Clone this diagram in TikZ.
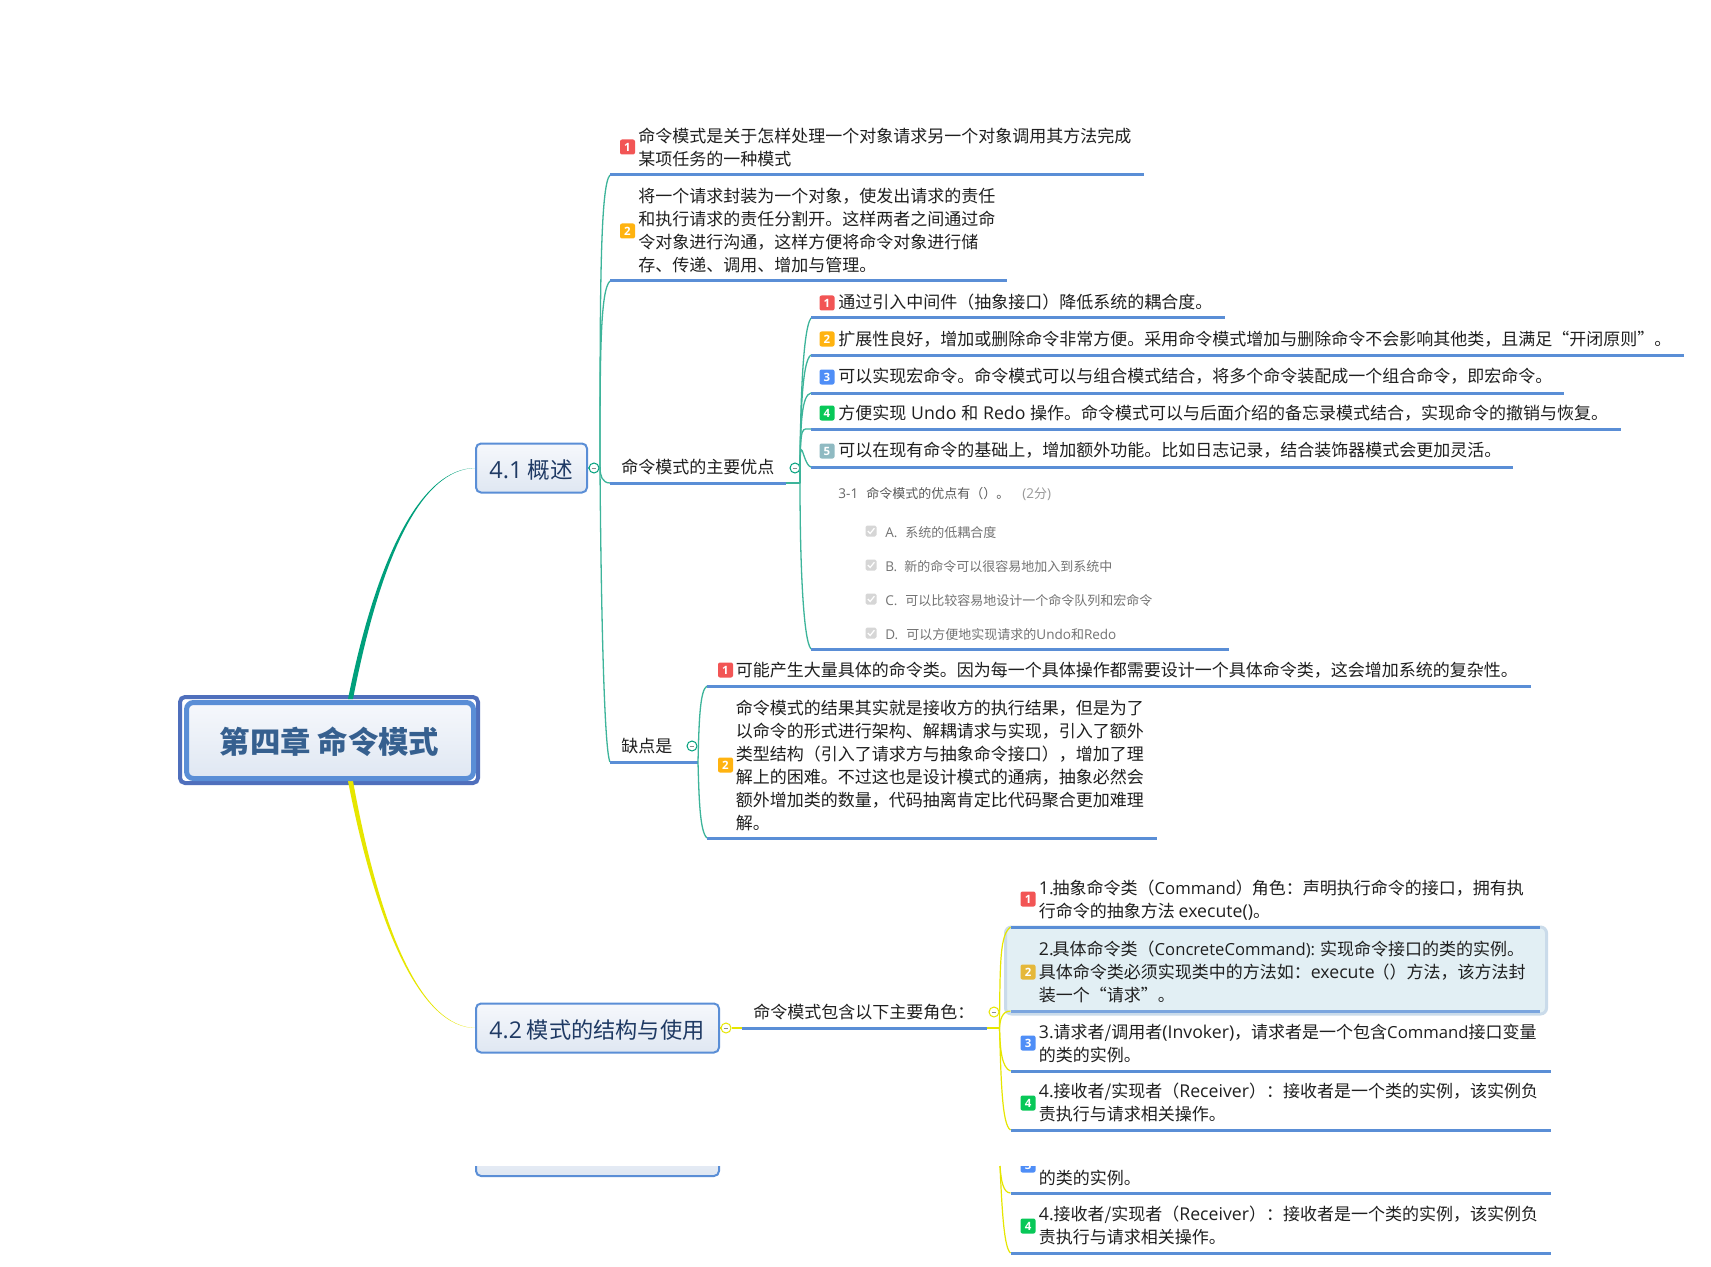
\documentclass[tikz,border=0pt]{standalone}
\usepackage{fontspec}
\setmainfont{Noto Sans CJK SC}
\newfontfamily\lat[Scale=1.04]{Open Sans}
\newfontfamily\latn[Scale=0.98]{Open Sans}
\definecolor{ulc}{HTML}{5A8ED6}
\definecolor{frame}{HTML}{4F6FBC}
\definecolor{titlec}{HTML}{36608F}
\definecolor{topicc}{HTML}{1F3A64}
\definecolor{hlfill}{HTML}{E2EFF4}
\definecolor{hldraw}{HTML}{CADBEA}
\definecolor{grn}{HTML}{00A07C}
\definecolor{grnl}{HTML}{3DB49A}
\definecolor{yel}{HTML}{E6E600}
\definecolor{mred}{HTML}{F25555}
\definecolor{mora}{HTML}{FFB310}
\definecolor{mblu}{HTML}{4F8EF7}
\definecolor{mgre}{HTML}{08C858}
\definecolor{mgry}{HTML}{8FBAC2}
\definecolor{mdim}{HTML}{E5B83A}
\definecolor{ctop}{HTML}{F6F8FC}
\definecolor{cbot}{HTML}{DFE7F2}
\tikzset{
  x=0.5pt,y=-0.5pt,
  txt/.style={anchor=west,inner sep=0pt,align=left,text=black!88,font=\fontsize{8.5}{11.5}\selectfont},
  qz/.style={anchor=west,inner sep=0pt,font=\fontsize{6.5}{8}\selectfont},
  ul/.style={draw=ulc,line width=1.5pt},
  bg/.style={line width=0.65pt,draw=grnl},
  by/.style={line width=0.6pt,draw=yel},
  mk/.style={fill=#1,rounded corners=1pt,minimum size=7.5pt,inner sep=0pt,text=white,font=\fontsize{5.5}{6}\lat\bfseries\selectfont},
  topic/.style={draw=ulc,line width=1pt,rounded corners=2.5pt,top color=ctop,bottom color=cbot,inner sep=0pt},
  topiclab/.style={inner sep=0pt,text=topicc,font=\fontsize{11.3}{14}\selectfont},
  fold/.style={circle,draw=#1,fill=white,line width=0.5pt,minimum size=5pt,inner sep=0pt,
    path picture={\draw[line width=0.3pt,draw=black!45] ([xshift=-1.2pt]path picture bounding box.center)--([xshift=1.2pt]path picture bounding box.center);}},
  cb/.style={fill=black!16,rounded corners=0.8pt,minimum size=5.5pt,inner sep=0pt},
}
\begin{document}
\begin{tikzpicture}
\useasboundingbox (0,0) rectangle (1711,1267);
\fill[white] (0,0) rectangle (1711,1267);

% root outer frame
\node[draw=frame,line width=2pt,rounded corners=2.5pt,fill=white,minimum width=149pt,minimum height=43pt,inner sep=0pt] (rootout) at (329,740) {};
% named ends
\coordinate (ra) at (348,699); \coordinate (rb) at (353,699);
\coordinate (rc) at (348,781); \coordinate (rd) at (353,781);
\coordinate (g) at (476,468); \coordinate (y) at (476,1028);
\fill[grn] (ra) .. controls (376,560) and (420,467.5) .. (g) .. controls (420,468.5) and (380,560) .. (rb) -- cycle;
\fill[yel] (rc) .. controls (376,925) and (420,1028.5) .. (y) .. controls (420,1027.5) and (379,925) .. (rd) -- cycle;

\node[draw=ulc,line width=2.5pt,rounded corners=3.5pt,top color=ctop,bottom color=cbot,minimum width=143.5pt,minimum height=38pt,inner sep=0pt] (root) at (330,740.5) {};
\node[inner sep=0pt,text=titlec,font=\fontsize{15.2}{18}\bfseries\selectfont] (rootlab) at (329.5,741.7) {第四章 命令模式};

\node[topic,minimum width=55.5pt,minimum height=24.5pt] (n41) at (531.5,468) {};
\node[topiclab] (n41lab) at (531,470) {{\lat 4.1} 概述};
\node[topic,minimum width=121.5pt,minimum height=24.5pt] (n42) at (597.5,1028) {};
\node[topiclab,font=\fontsize{11.1}{14}\selectfont] (n42lab) at (597,1029.6) {{\lat 4.2} 模式的结构与使用};
\begin{scope}
\clip (470,1166) rectangle (730,1180);
\node[topic,minimum width=121.5pt,minimum height=24.5pt] (n42b) at (597.5,1151.5) {};
\end{scope}

% ---------- section 4.1
\node[fold=grn] (f41) at (594,468) {};
\draw[bg] (n41.east) -- (f41);
\coordinate (sp1) at (600,468);
\draw[bg] (f41) -- (sp1);

\coordinate (t1a) at (610,175); \coordinate (t1b) at (1144,175);
\coordinate (t2a) at (610,281); \coordinate (t2b) at (1007,281);
\coordinate (adva) at (610,483); \coordinate (advb) at (786,483);
\coordinate (disa) at (610,762); \coordinate (disb) at (698,762);
\draw[bg] (sp1) .. controls (600,300) and (600,185) .. (t1a);
\draw[bg] (sp1) .. controls (600,360) and (600,290) .. (t2a);
\draw[bg] (sp1) .. controls (600,475) and (602,483) .. (adva);
\draw[bg] (sp1) .. controls (601,600) and (604,750) .. (disa);
\draw[ul] (t1a) -- (t1b);
\draw[ul] (t2a) -- (t2b);
\draw[ul] (adva) -- (advb);
\draw[ul] (disa) -- (disb);

\node[mk=mred] (m1) at (627.5,147) {1};
\node[txt] (t1) at (638,147) {命令模式是关于怎样处理一个对象请求另一个对象调用其方法完成\\某项任务的一种模式};
\node[mk=mora] (m2) at (627.5,231) {2};
\node[txt] (t2) at (638,231) {将一个请求封装为一个对象，使发出请求的责任\\和执行请求的责任分割开。这样两者之间通过命\\令对象进行沟通，这样方便将命令对象进行储\\存、传递、调用、增加与管理。};
\node[txt] (adv) at (621,467) {命令模式的主要优点};
\node[txt] (dis) at (621,746) {缺点是};

% advantages
\coordinate (sp2) at (800,483);
\node[fold=grn] (f2) at (795,468) {};
\draw[bg] (advb) -- (sp2);
\coordinate (s1a) at (811,318); \coordinate (s1b) at (1225,318);
\coordinate (s2a) at (811,355); \coordinate (s2b) at (1684,355);
\coordinate (s3a) at (811,393); \coordinate (s3b) at (1564,393);
\coordinate (s4a) at (811,429); \coordinate (s4b) at (1621,429);
\coordinate (s5a) at (811,467); \coordinate (s5b) at (1513,467);
\coordinate (s6a) at (811,649); \coordinate (s6b) at (1229,649);
\foreach \n/\c in {s1a/330,s2a/360,s3a/395,s4a/430,s5a/465}{
  \draw[bg] (sp2) .. controls (800,420) and (802,\c) .. (\n);}
\draw[bg] (sp2) .. controls (800,560) and (803,640) .. (s6a);
\foreach \n in {s1,s2,s3,s4,s5,s6}{\draw[ul] (\n a) -- (\n b);}
\node[mk=mred] (ma1) at (827,303) {1};
\node[txt] (a1) at (838,302.5) {通过引入中间件（抽象接口）降低系统的耦合度。};
\node[mk=mora] (ma2) at (827,339) {2};
\node[txt] (a2) at (838,339.5) {扩展性良好，增加或删除命令非常方便。采用命令模式增加与删除命令不会影响其他类，且满足“开闭原则”。};
\node[mk=mblu] (ma3) at (827,377) {3};
\node[txt] (a3) at (838,376.5) {可以实现宏命令。命令模式可以与组合模式结合，将多个命令装配成一个组合命令，即宏命令。};
\node[mk=mgre] (ma4) at (827,413) {4};
\node[txt] (a4) at (838,413) {方便实现\hspace{0.5pt} {\lat Undo}\hspace{0.5pt} 和\hspace{0.5pt} {\lat Redo}\hspace{0.5pt} 操作。命令模式可以与后面介绍的备忘录模式结合，实现命令的撤销与恢复。};
\node[mk=mgry] (ma5) at (827,451) {5};
\node[txt] (a5) at (838,450) {可以在现有命令的基础上，增加额外功能。比如日志记录，结合装饰器模式会更加灵活。};

% quiz picture
\node[qz,text=black!60] (q0) at (838,494) {{\lat 3-1}};
\node[qz,text=black!65] (q1) at (866,494) {命令模式的优点有（）。};
\node[qz,text=black!40] (q2) at (1022,494) {{\lat (2}分{\lat )}};
\foreach \nm/\yy/\ty/\lab/\xx/\body in {qa/531/532.5/A./905/系统的低耦合度,qb/565/566.5/B./904/新的命令可以很容易地加入到系统中,qc/599/600.5/C./905/可以比较容易地设计一个命令队列和宏命令,qd/633/634.5/D./906/可以方便地实现请求的{\lat Undo}和{\lat Redo}}{
  \node[cb] (c\nm) at (871,\yy) {};
  \draw[white,line width=0.6pt] ([xshift=-1.6pt,yshift=0pt]c\nm.center) -- ([xshift=-0.4pt,yshift=-1.2pt]c\nm.center) -- ([xshift=1.7pt,yshift=1.4pt]c\nm.center);
  \node[qz,text=black!55] (l\nm) at (885,\ty) {{\lat \lab}};
  \node[qz,text=black!55] (\nm) at (\xx,\ty) {\body};
}

% disadvantages
\node[fold=grn] (f3) at (692,746) {};
\coordinate (sp3) at (698,762);
\coordinate (d1a) at (707,686); \coordinate (d1b) at (1531,686);
\coordinate (d2a) at (707,838); \coordinate (d2b) at (1157,838);
\draw[bg] (sp3) .. controls (699,720) and (700,690) .. (d1a);
\draw[bg] (sp3) .. controls (699,800) and (700,832) .. (d2a);
\draw[ul] (d1a) -- (d1b);
\draw[ul] (d2a) -- (d2b);
\node[mk=mred] (md1) at (725.5,670) {1};
\node[txt] (d1) at (735.5,670) {可能产生大量具体的命令类。因为每一个具体操作都需要设计一个具体命令类，这会增加系统的复杂性。};
\node[mk=mora] (md2) at (725.5,765) {2};
\node[txt] (d2) at (735.5,765.5) {命令模式的结果其实就是接收方的执行结果，但是为了\\以命令的形式进行架构、解耦请求与实现，引入了额外\\类型结构（引入了请求方与抽象命令接口），增加了理\\解上的困难。不过这也是设计模式的通病，抽象必然会\\额外增加类的数量，代码抽离肯定比代码聚合更加难理\\解。};

% ---------- section 4.2
\node[fold=yel] (f42) at (726,1028) {};
\draw[by] (n42.east) -- (f42);
\coordinate (ra1) at (742,1028); \coordinate (ra2) at (987,1028);
\coordinate (sp4) at (999.5,1028);
\draw[by] (f42) -- (ra1);
\draw[ul] (ra1) -- (ra2);
\draw[by] (ra2) -- (sp4);
\node[txt] (ra) at (753,1012) {命令模式包含以下主要角色：};
\node[fold=yel] (f43) at (994,1012) {};

\node[draw=hldraw,line width=1.5pt,rounded corners=3pt,fill=hlfill,minimum width=270.5pt,minimum height=43.5pt,inner sep=0pt] (hl) at (1276,970.5) {};
\coordinate (r1a) at (1010.5,927); \coordinate (r1b) at (1540,927);
\coordinate (r2a) at (1010.5,1011); \coordinate (r2b) at (1540,1011);
\coordinate (r3a) at (1010.5,1071); \coordinate (r3b) at (1550.5,1071);
\coordinate (r4a) at (1010.5,1130); \coordinate (r4b) at (1550.5,1130);
\draw[by] (sp4) .. controls (1000,960) and (1000,935) .. (r1a);
\draw[by] (sp4) .. controls (1000,1020) and (1002,1011) .. (r2a);
\draw[by] (sp4) .. controls (1000,1050) and (1002,1068) .. (r3a);
\draw[by] (sp4) .. controls (1001,1080) and (1002,1125) .. (r4a);
\draw[ul] (r1a) -- (r1b);
\draw[ul,draw=ulc!80] (r2a) -- (r2b);
\draw[ul] (r3a) -- (r3b);
\draw[ul] (r4a) -- (r4b);
\node[mk=mred] (mr1) at (1028,899) {1};
\node[txt] (r1) at (1038.5,900) {{\lat 1.}\hspace{-0.5pt}抽象命令类（{\latn Command}）\hspace{-0.6pt}角色：声明执行命令的接口，拥有执\\行命令的抽象方法 {\lat execute()}。};
\node[mk=mdim] (mr2) at (1028,972) {2};
\node[txt] (r2) at (1038.5,971.5) {{\lat 2.}\hspace{-0.5pt}具体命令类（{\latn ConcreteCommand):} 实现命令接口的类的实例。\\具体命令类必须实现类中的方法如：{\lat execute}\hspace{-3pt} （）方法，该方法封\\装一个“请求”。};
\node[mk=mblu] (mr3) at (1028,1043) {3};
\node[txt] (r3) at (1038.5,1043) {{\lat 3.}请求者/调用者{\lat (Invoker)}，请求者是一个包含{\latn Command}接口变量\\的类的实例。};
\node[mk=mgre] (mr4) at (1028,1103) {4};
\node[txt] (r4) at (1038.5,1102.5) {{\lat 4.}接收者/实现者（{\lat Receiver}）：接收者是一个类的实例，该实例负\\责执行与请求相关操作。};

% clipped repeat at the bottom
\coordinate (sp5) at (1000,1166);
\coordinate (r5a) at (1010.5,1193); \coordinate (r5b) at (1550.5,1193);
\coordinate (r6a) at (1010.5,1253); \coordinate (r6b) at (1550.5,1253);
\draw[by] (sp5) .. controls (1001,1180) and (1003,1193) .. (r5a);
\draw[by] (sp5) .. controls (1002,1210) and (1004,1248) .. (r6a);
\draw[ul] (r5a) -- (r5b);
\draw[ul] (r6a) -- (r6b);
\begin{scope}
\clip (1010,1166) rectangle (1050,1180);
\node[mk=mblu] (mr5) at (1028,1165) {3};
\end{scope}
\node[txt] (r5) at (1038.5,1178) {的类的实例。};
\node[mk=mgre] (mr6) at (1028,1226) {4};
\node[txt] (r6) at (1038.5,1225.5) {{\lat 4.}接收者/实现者（{\lat Receiver}）：接收者是一个类的实例，该实例负\\责执行与请求相关操作。};
\end{tikzpicture}
\end{document}
